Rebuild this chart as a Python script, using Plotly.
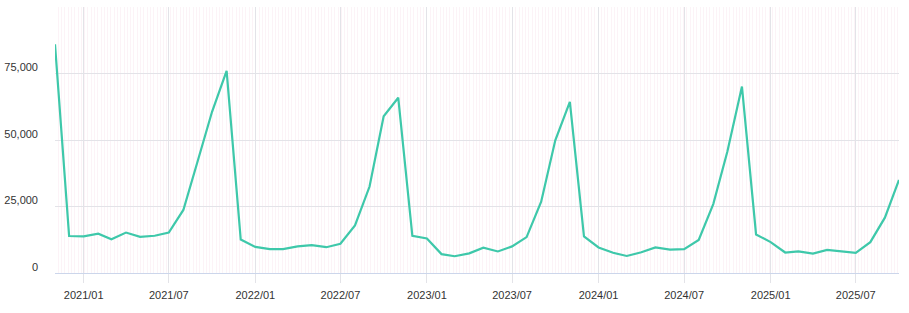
import plotly.graph_objects as go
import pandas as pd

months = pd.date_range("2020-11-01", "2025-10-01", freq="MS").strftime("%Y-%m-%d").tolist()
values = [
    86000, 13900, 13800, 14800, 12700, 15200, 13600, 14000, 15200, 23700,
    42400, 60600, 76000, 12600, 9800, 9000, 9000, 10000, 10500, 9700,
    11000, 17900, 32500, 58900, 65900, 14000, 13000, 7100, 6300, 7400,
    9500, 8100, 10000, 13500, 26800, 49900, 64300, 13800, 9600, 7600,
    6400, 7800, 9600, 8800, 9000, 12400, 25900, 45700, 70100, 14500,
    11600, 7700, 8100, 7300, 8700, 8000, 7600, 11600, 20800, 35000,
]
y_tickvals = [0, 25000, 50000, 75000, 100000]
y_ticktext = ["0", "25,000", "50,000", "75,000", ""]

fig = go.Figure()
fig.add_trace(go.Scatter(
    x=months, y=values, mode="lines",
    line=dict(color="#3ec8aa", width=2.2),
    hoverinfo="x+y",
))

fig.update_layout(
    width=909, height=313,
    margin=dict(l=55, r=10, t=7, b=40, autoexpand=False),
    paper_bgcolor="white", plot_bgcolor="white",
    showlegend=False,
    font=dict(family="Liberation Sans, Arial, sans-serif", size=11, color="#333333"),
)
fig.update_xaxes(
    type="date", automargin=False,
    range=["2020-11-01", "2025-10-01"],
    tick0="2021-01-01", dtick="M6", tickformat="%Y/%m",
    showgrid=True, gridcolor="#e3e3e8", gridwidth=1,
    ticks="outside", ticklen=9, tickcolor="#e3e3e8",
    ticklabelstandoff=3,
    showline=True, linecolor="#ccd6eb", linewidth=1,
    zeroline=False,
    minor=dict(dtick=7 * 24 * 3600 * 1000, tick0="2020-11-01",
               showgrid=True, gridcolor="#fcf3f7", gridwidth=1),
    tickfont=dict(size=11, color="#333333"),
)
fig.update_yaxes(
    range=[0, 100000], automargin=False,
    tickvals=y_tickvals, ticktext=y_ticktext,
    showgrid=True, gridcolor="#e3e3e8", gridwidth=1,
    zeroline=False, showline=False,
    ticklabelstandoff=16, ticklabelshift=-6,
    tickfont=dict(size=11, color="#333333"),
)

fig.write_html("out.html")
